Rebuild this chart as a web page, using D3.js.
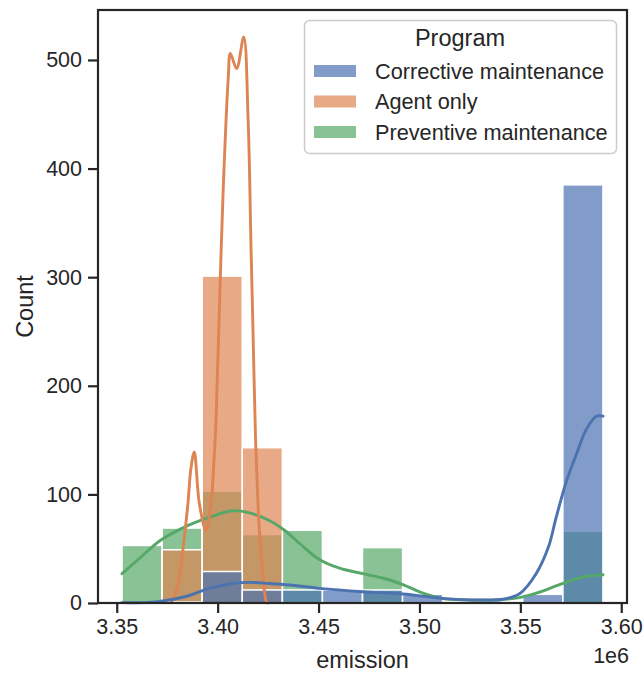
<!DOCTYPE html>
<html>
<head>
<meta charset="utf-8">
<script src="https://cdn.jsdelivr.net/npm/d3@7"></script>
<style>
  body { margin: 0; background: #fff; }
  svg text { font-family: "Liberation Sans", Arial, sans-serif; fill: #262626; }
</style>
</head>
<body>
<svg id="chart"></svg>
<script>
const WIDTH = 643;
const HEIGHT = 673;

// bins shared by all programs (emission, in 1e6)
const binStart = 3.35263;
const binWidth = 0.019858;
const binCount = 12;

const programs = ["Corrective maintenance", "Agent only", "Preventive maintenance"];
const colors = ["#4c72b0", "#dd8452", "#55a868"];

// counts per bin
const correctiveCounts = [0, 1, 29, 12, 12, 12, 12, 8, 0, 0, 8, 385];
const agentCounts = [0, 49, 301, 143, 0, 0, 0, 0, 0, 0, 0, 0];
const preventiveCounts = [53, 69, 103, 63, 67, 0, 51, 0, 0, 0, 0, 66];

// kde curves: [emission, count]
const correctiveKde = [
  [3.3526, 0.3], [3.3694, 1], [3.3843, 6], [3.3959, 13.5], [3.4074, 18], [3.4157, 19],
  [3.4256, 18], [3.4356, 16.6], [3.4504, 13.5], [3.4719, 10.4], [3.4918, 8.3],
  [3.5116, 4.3], [3.5298, 2.8], [3.5414, 3.5], [3.5496, 8.5], [3.5578, 27],
  [3.5640, 52], [3.5675, 77], [3.5728, 112], [3.5778, 137], [3.5827, 160],
  [3.5877, 172], [3.5910, 172]
];
const agentKde = [
  [3.3770, 0.5], [3.3802, 15], [3.3829, 51], [3.3853, 92], [3.3867, 123], [3.3884, 139],
  [3.3909, 92], [3.3942, 67], [3.3967, 92], [3.3984, 138], [3.3992, 169], [3.4008, 267],
  [3.4028, 383], [3.4053, 485], [3.4063, 506], [3.4094, 492], [3.4129, 521],
  [3.4151, 445], [3.4166, 322], [3.4174, 261], [3.4188, 150], [3.4199, 95],
  [3.4209, 60], [3.4223, 30], [3.4240, 2], [3.4250, 0]
];
const preventiveKde = [
  [3.3526, 27], [3.3612, 41], [3.3719, 58], [3.3860, 72], [3.3992, 81], [3.4074, 85],
  [3.4157, 83], [3.4256, 76], [3.4331, 67], [3.4405, 55], [3.4504, 40], [3.4604, 32],
  [3.4719, 27], [3.4818, 23], [3.4918, 17], [3.5017, 9], [3.5116, 4], [3.5232, 2.8],
  [3.5298, 2.5], [3.5397, 3], [3.5496, 5], [3.5580, 9], [3.5711, 18], [3.5810, 24],
  [3.5910, 26]
];

const countsByProgram = [correctiveCounts, agentCounts, preventiveCounts];
const kdeByProgram = [correctiveKde, agentKde, preventiveKde];

const xTicks = [3.35, 3.40, 3.45, 3.50, 3.55, 3.60];
const yTicks = [0, 100, 200, 300, 400, 500];

const margin = { left: 98, right: 16, top: 10, bottom: 70 };

const svg = d3.select("#chart")
  .attr("width", WIDTH)
  .attr("height", HEIGHT);

const x = d3.scaleLinear()
  .domain([3.34071, 3.60285])
  .range([margin.left, WIDTH - margin.right]);
const y = d3.scaleLinear()
  .domain([0, 546])
  .range([HEIGHT - margin.bottom, margin.top]);

// bars, last program first so the first one ends up on top
for (let p = programs.length - 1; p >= 0; p--) {
  const bins = countsByProgram[p].map((c, i) => ({
    x0: binStart + i * binWidth,
    x1: binStart + (i + 1) * binWidth,
    count: c
  })).filter(d => d.count > 0);

  svg.append("g")
    .selectAll("rect")
    .data(bins)
    .join("rect")
    .attr("x", d => x(d.x0))
    .attr("width", d => x(d.x1) - x(d.x0))
    .attr("y", d => y(d.count))
    .attr("height", d => y(0) - y(d.count))
    .attr("fill", colors[p])
    .attr("fill-opacity", 0.7)
    .attr("stroke", "#fff")
    .attr("stroke-width", 1.5);
}

const line = d3.line()
  .x(d => x(d[0]))
  .y(d => y(d[1]))
  .curve(d3.curveCatmullRom.alpha(0.5));

for (let p = programs.length - 1; p >= 0; p--) {
  svg.append("path")
    .datum(kdeByProgram[p])
    .attr("fill", "none")
    .attr("stroke", colors[p])
    .attr("stroke-width", 2.9)
    .attr("stroke-linecap", "round")
    .attr("d", line);
}

// axes
const xAxis = svg.append("g")
  .attr("transform", `translate(0,${HEIGHT - margin.bottom})`)
  .call(d3.axisBottom(x).tickValues(xTicks).tickFormat(d3.format(".2f")).tickSize(10).tickPadding(6));
const yAxis = svg.append("g")
  .attr("transform", `translate(${margin.left},0)`)
  .call(d3.axisLeft(y).tickValues(yTicks).tickSize(10).tickPadding(6));

[xAxis, yAxis].forEach(g => {
  g.select(".domain").remove();
  g.selectAll(".tick line").attr("stroke", "#262626").attr("stroke-width", 2.2);
  g.selectAll(".tick text").attr("font-size", 21.5).attr("fill", "#262626");
  g.attr("font-family", null);
});

// frame
svg.append("rect")
  .attr("x", margin.left)
  .attr("y", margin.top)
  .attr("width", WIDTH - margin.right - margin.left)
  .attr("height", HEIGHT - margin.bottom - margin.top)
  .attr("fill", "none")
  .attr("stroke", "#262626")
  .attr("stroke-width", 2.2);

svg.append("text")
  .attr("x", (margin.left + WIDTH - margin.right) / 2)
  .attr("y", 668)
  .attr("text-anchor", "middle")
  .attr("font-size", 23.5)
  .text("emission");

svg.append("text")
  .attr("x", WIDTH - margin.right + 2)
  .attr("y", 663)
  .attr("text-anchor", "end")
  .attr("font-size", 21.5)
  .text("1e6");

svg.append("text")
  .attr("transform", `translate(33,${(margin.top + HEIGHT - margin.bottom) / 2}) rotate(-90)`)
  .attr("text-anchor", "middle")
  .attr("font-size", 23.5)
  .text("Count");

// legend
const legend = svg.append("g");
legend.append("rect")
  .attr("x", 304.5)
  .attr("y", 20.5)
  .attr("width", 312)
  .attr("height", 133)
  .attr("rx", 5)
  .attr("fill", "#fff")
  .attr("fill-opacity", 0.8)
  .attr("stroke", "#cccccc")
  .attr("stroke-width", 1.5);
legend.append("text")
  .attr("x", 460)
  .attr("y", 46)
  .attr("text-anchor", "middle")
  .attr("font-size", 23.5)
  .text("Program");
programs.forEach((name, i) => {
  const cy = 71 + i * 30.5;
  legend.append("rect")
    .attr("x", 314)
    .attr("y", cy - 6)
    .attr("width", 42)
    .attr("height", 12)
    .attr("fill", colors[i])
    .attr("fill-opacity", 0.7);
  legend.append("text")
    .attr("x", 375)
    .attr("y", cy + 7.5)
    .attr("font-size", 21.7)
    .text(name);
});
</script>
</body>
</html>
